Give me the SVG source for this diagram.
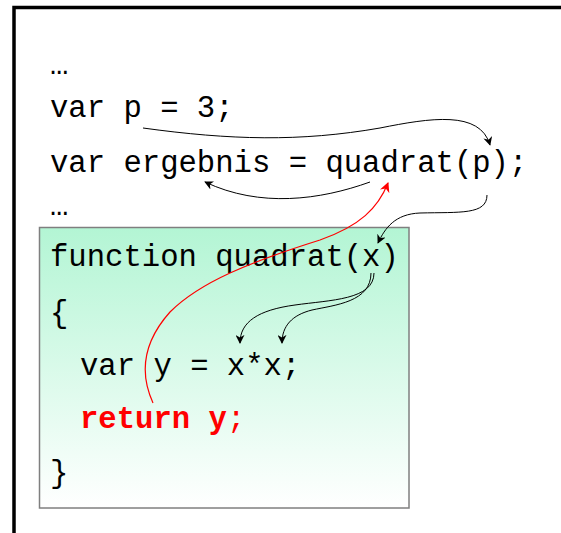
<svg xmlns="http://www.w3.org/2000/svg" width="561" height="533" viewBox="0 0 561 533">
<style>
.code{font-family:"Liberation Mono","DejaVu Sans Mono",monospace;font-size:30.6px;fill:#000}
.ret{fill:#ff0000}
.b{font-weight:bold}
.c{fill:none;stroke:#000;stroke-width:1}
.r{fill:none;stroke:#ff0000;stroke-width:1.2}
</style>
<defs>
<linearGradient id="g" x1="0" y1="0" x2="0" y2="1">
<stop offset="0" stop-color="#b3f5d4"/>
<stop offset="1" stop-color="#ffffff"/>
</linearGradient>
<marker id="ah" viewBox="0 0 10 10" refX="9" refY="5" markerWidth="9" markerHeight="9" markerUnits="userSpaceOnUse" orient="auto">
<path d="M0,0 L10,5 L0,10 L3,5 Z" fill="#000"/>
</marker>
<marker id="ahr" viewBox="0 0 10 10" refX="9" refY="5" markerWidth="10" markerHeight="10" markerUnits="userSpaceOnUse" orient="auto">
<path d="M0,0 L10,5 L0,10 L3,5 Z" fill="#ff0000"/>
</marker>
</defs>
<rect width="561" height="533" fill="#fff"/>
<g id="frame">
<path d="M14,533 L14,7.5 L561,7.5" fill="none" stroke="#000" stroke-width="3.5"/>
</g>
<g id="caller">
<text class="code" x="50" y="74">…</text>
<text class="code" x="50" y="117">var p = 3;</text>
<text class="code" x="50" y="172">var ergebnis = quadrat(p);</text>
<text class="code" x="50" y="215">…</text>
</g>
<g id="function">
<rect x="39.5" y="227.5" width="369.5" height="280.5" fill="url(#g)" stroke="#7f7f7f" stroke-width="1.5"/>
<text class="code" x="50" y="266">function quadrat(x)</text>
<text class="code" x="50" y="322">{</text>
<text class="code" x="80" y="375">var y = x*x;</text>
<text class="code ret" x="80" y="428"><tspan class="b">return y</tspan>;</text>
<text class="code" x="50" y="482">}</text>
</g>
<g id="connectors">
<path class="c" d="M143,128 C230,140 300,142 380,128 C430,118 480,110 490,145" marker-end="url(#ah)"/>
<path class="c" d="M370,182 C320,200 260,208 205,182" marker-end="url(#ah)"/>
<path class="c" d="M487,195 C487,215 460,212 420,213 C395,214 385,228 378,243" marker-end="url(#ah)"/>
<path class="c" d="M374,273 C374,300 330,300 295,305 C258,310 240,322 240,343" marker-end="url(#ah)"/>
<path class="c" d="M371,273 C371,302 335,305 312,310 C292,315 282,326 282,343" marker-end="url(#ah)"/>
<path class="r" d="M153,403 C138,370 145,340 170,312 C200,282 250,262 320,240 C360,226 378,208 388,183" marker-end="url(#ahr)"/>
</g>
</svg>
